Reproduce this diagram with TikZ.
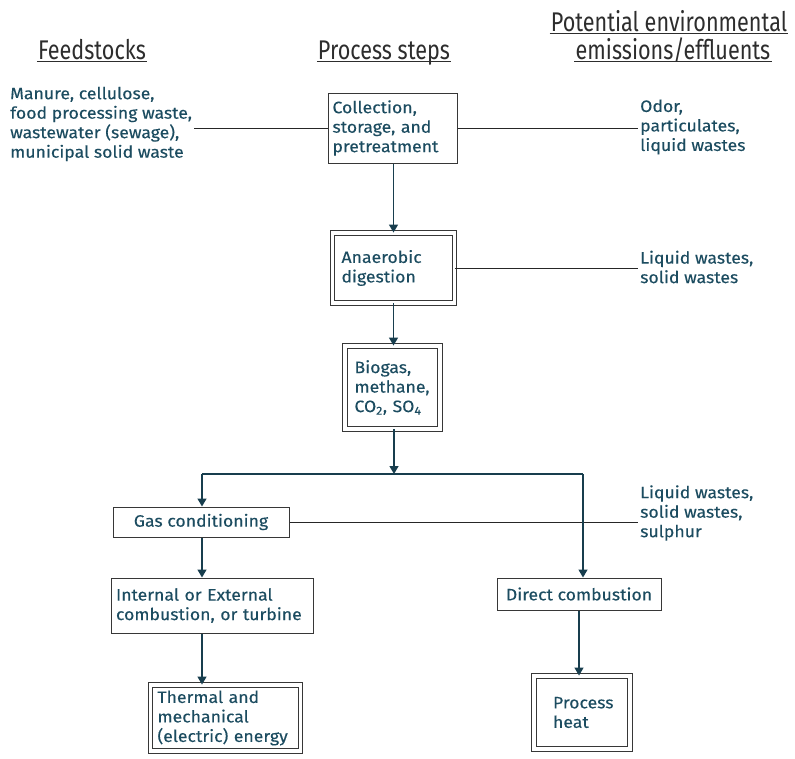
\documentclass[tikz,border=0pt]{standalone}
\usepackage{fontspec}
\setmainfont{Fira Sans}[FakeStretch=1.07, FakeBold=0.3]
\newfontfamily\headfont[FakeStretch=0.8]{Fira Sans}
\usepackage{tikz}
\usetikzlibrary{arrows.meta}
\usetikzlibrary{calc}
\definecolor{inkteal}{RGB}{28,76,96}
\definecolor{lineteal}{RGB}{24,62,78}
\definecolor{boxgray}{RGB}{55,55,55}
\definecolor{headgray}{RGB}{45,45,45}
\tikzset{
  note/.style={align=left, inner sep=2pt, text=inkteal,
    font=\fontsize{16.5}{19.5}\selectfont},
  procbox/.style={draw=boxgray, line width=1pt, align=left, inner sep=3pt,
    text=inkteal, font=\fontsize{16.5}{19.5}\selectfont},
  dblbox/.style={procbox, double, double distance=3.6pt, line width=0.9pt},
  heading/.style={text=headgray, inner sep=1pt, align=center,
    font=\headfont\fontsize{27}{28}\selectfont},
  uline/.style={draw=headgray, line width=1pt},
  flow/.style={draw=lineteal, line width=1.4pt,
    -{Triangle[width=9pt,length=8pt]}},
  link/.style={draw=black!85, line width=0.9pt}
}
\begin{document}
\begin{tikzpicture}[x=1pt,y=-1pt]
  \useasboundingbox (0,0) rectangle (795,758);
  % column headings
  \node[heading, anchor=base] (hfeed) at (92,59) {Feedstocks};
  \node[heading, anchor=base] (hproc) at (384,59) {Process steps};
  \node[heading, anchor=base] (hpot) at (669,31) {Potential environmental};
  \node[heading, anchor=base] (hemit) at (673,59) {emissions/effluents};
  \draw[uline] ($(hfeed.base west)+(0,2.5)$) -- ($(hfeed.base east)+(0,2.5)$);
  \draw[uline] ($(hproc.base west)+(0,2.5)$) -- ($(hproc.base east)+(0,2.5)$);
  \draw[uline] ($(hpot.base west)+(0,2.5)$) -- ($(hpot.base east)+(0,2.5)$);
  \draw[uline] ($(hemit.base west)+(0,2.5)$) -- ($(hemit.base east)+(0,2.5)$);

  % side notes
  \node[note, anchor=west] (feed) at (8,124) {Manure, cellulose,\\food processing waste,\\wastewater (sewage),\\municipal solid waste};
  \node[note, anchor=west] (odor) at (638,127) {Odor,\\particulates,\\liquid wastes};
  \node[note, anchor=west] (waste1) at (638,267) {Liquid wastes,\\solid wastes};
  \node[note, anchor=west] (waste2) at (638,513) {Liquid wastes,\\solid wastes,\\sulphur};

  % process steps
  \node[procbox, minimum width=129pt, minimum height=70pt, text width=120pt] (collect) at (392.5,128) {Collection,\\storage, and\\pretreatment};
  \node[dblbox, minimum width=122pt, minimum height=70pt, text width=104pt] (digest) at (393.5,268) {Anaerobic\\digestion};
  \node[dblbox, minimum width=95pt, minimum height=83pt, text width=76pt] (biogas) at (392.5,387.5) {Biogas,\\methane,\\CO\textsubscript{2}, SO\textsubscript{4}};
  \node[procbox, align=center, minimum width=176pt, minimum height=30pt] (gascond) at (201,522) {Gas conditioning};
  \node[procbox, minimum width=202pt, minimum height=55pt, text width=192pt] (engine) at (212,605.5) {Internal or External\\combustion, or turbine};
  \node[dblbox, minimum width=150pt, minimum height=66pt, text width=136pt] (thermal) at (225.5,718) {Thermal and\\mechanical\\(electric) energy};
  \node[procbox, align=center, minimum width=164pt, minimum height=32pt] (directc) at (579,594) {Direct combustion};
  \node[dblbox, minimum width=96pt, minimum height=73pt, text width=58pt] (heat) at (582,712.5) {Process\\heat};

  % split point below biogas
  \coordinate (split) at (394,474);
  \coordinate (lsplit) at (202,474);
  \coordinate (rsplit) at (583,474);

  % emission links
  \draw[link] (feed.east |- collect.west) -- (collect.west);
  \draw[link] (collect.east) -- (odor.west |- collect.east);
  \draw[link] (digest.east) -- (waste1.west |- digest.east);
  \draw[link] (gascond.east) -- (waste2.west |- gascond.east);

  % main flow
  \draw[flow] (collect.south -| digest.north) -- (digest.north);
  \draw[flow] (digest.south) -- (biogas.north -| digest.south);
  \draw[flow] (biogas.south -| split) -- (split);
  \draw[draw=lineteal, line width=1.4pt] (lsplit) -- (rsplit);
  \draw[flow] (lsplit) -- (lsplit |- gascond.north);
  \draw[flow] (rsplit) -- (rsplit |- directc.north);
  \draw[flow] (gascond.south -| lsplit) -- (engine.north -| lsplit);
  \draw[flow] (engine.south -| lsplit) -- (thermal.north -| lsplit);
  \draw[flow] (directc.south) -- (heat.north -| directc.south);
\end{tikzpicture}
\end{document}
